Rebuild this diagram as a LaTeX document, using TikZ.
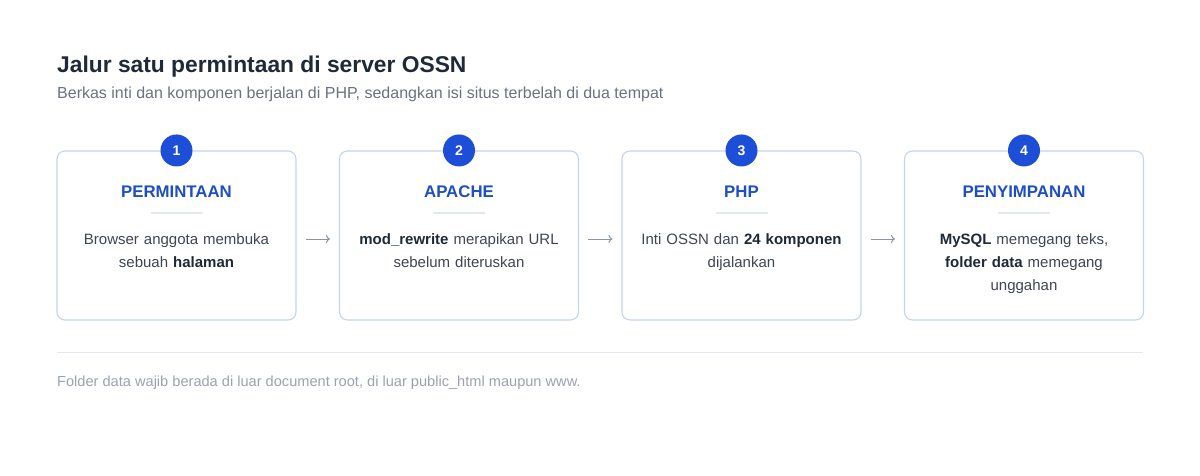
\documentclass[tikz,border=0pt]{standalone}
\usepackage{fontspec}
\setmainfont{Liberation Sans}
\usetikzlibrary{positioning,arrows.meta}
\definecolor{ink}{HTML}{1F2937}
\definecolor{subgray}{HTML}{6B7280}
\definecolor{notegray}{HTML}{9CA3AF}
\definecolor{bodygray}{HTML}{3F4652}
\definecolor{boxline}{HTML}{C3D4EC}
\definecolor{badgeblue}{HTML}{1D4ED8}
\definecolor{headblue}{HTML}{1E4FC2}
\definecolor{rulegray}{HTML}{E2E8F0}
\definecolor{arrowgray}{HTML}{8B93A7}
\newcommand{\keyword}[1]{\textbf{\color{ink}#1}}

\begin{document}
\begin{tikzpicture}[x=1pt,y=-1pt,
    box/.style={draw=boxline, line width=1.1pt, rounded corners=8pt, fill=white,
      minimum width=239pt, minimum height=169pt, inner sep=0pt},
    badge/.style={circle, fill=badgeblue, text=white, minimum size=32pt, inner sep=0pt,
      font=\fontsize{14}{16}\selectfont\bfseries},
    head/.style={anchor=base, text=headblue, inner sep=0pt,
      font=\fontsize{16.8}{20}\selectfont\bfseries},
    body/.style={anchor=north, text=bodygray, align=center, text width=225pt, inner sep=0pt,
      font=\fontsize{15}{23}\selectfont},
    rulebar/.style={draw=rulegray, line width=1.4pt},
    flow/.style={draw=arrowgray, line width=1pt, -{To[length=4pt,width=8pt]}}]
  \useasboundingbox[fill=white] (0,0) rectangle (1200,475);
  % title
  \node[anchor=base west, inner sep=0pt, text=ink, font=\fontsize{22.8}{26}\selectfont\bfseries]
    (title) at (57,72.5) {Jalur satu permintaan di server OSSN};
  \node[anchor=base west, inner sep=0pt, text=subgray, font=\fontsize{16}{19}\selectfont]
    (subtitle) at (57,98) {Berkas inti dan komponen berjalan di PHP, sedangkan isi situs terbelah di dua tempat};
  % the four steps
  \node[box] (b1) at (176.5,235.5) {};
  \node[box] (b2) at (459,235.5) {};
  \node[box] (b3) at (741.5,235.5) {};
  \node[box] (b4) at (1024,235.5) {};
  \node[badge] (n1) at (b1.north) {1};
  \node[badge] (n2) at (b2.north) {2};
  \node[badge] (n3) at (b3.north) {3};
  \node[badge] (n4) at (b4.north) {4};
  \node[head] (h1) at (176.5,197) {PERMINTAAN};
  \node[head] (h2) at (459,197) {APACHE};
  \node[head] (h3) at (741.5,197) {PHP};
  \node[head] (h4) at (1024,197) {PENYIMPANAN};
  \draw[rulebar] (150.5,213) -- (202.5,213);
  \draw[rulebar] (433,213) -- (485,213);
  \draw[rulebar] (715.5,213) -- (767.5,213);
  \draw[rulebar] (998,213) -- (1050,213);
  \node[body] (t1) at (176.5,233.5) {Browser anggota membuka\\sebuah \keyword{halaman}};
  \node[body] (t2) at (459,233.5) {\keyword{mod\_rewrite} merapikan URL\\sebelum diteruskan};
  \node[body] (t3) at (741.5,233.5) {Inti OSSN dan \keyword{24 komponen}\\dijalankan};
  \node[body] (t4) at (1024,233.5) {\keyword{MySQL} memegang teks,\\\keyword{folder data} memegang\\unggahan};
  % arrows between steps
  \draw[flow, shorten <=9pt, shorten >=9pt] ([yshift=-3.5pt]b1.east) -- ([yshift=-3.5pt]b2.west);
  \draw[flow, shorten <=9pt, shorten >=9pt] ([yshift=-3.5pt]b2.east) -- ([yshift=-3.5pt]b3.west);
  \draw[flow, shorten <=9pt, shorten >=9pt] ([yshift=-3.5pt]b3.east) -- ([yshift=-3.5pt]b4.west);
  % footer
  \draw[draw=rulegray, line width=1pt] (57,352.5) coordinate (s1) -- (1143,352.5) coordinate (s2);
  \node[anchor=base west, inner sep=0pt, text=notegray, font=\fontsize{14.6}{17}\selectfont]
    (note) at (57,386) {Folder data wajib berada di luar document root, di luar public\_html maupun www.};
\end{tikzpicture}
\end{document}
